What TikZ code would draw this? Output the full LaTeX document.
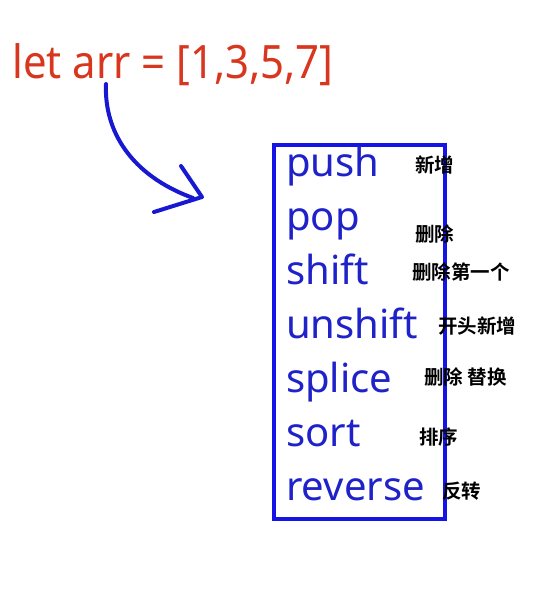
\documentclass[tikz,border=0pt]{standalone}
\usepackage{fontspec}
\setmainfont{Noto Sans}
\newfontfamily\titlefont[FakeStretch=0.91]{Noto Sans}
\newfontfamily\cjkb[BoldFont=*]{Noto Sans CJK SC Bold}
\definecolor{titlered}{HTML}{D8361E}
\definecolor{mblue}{HTML}{1E22C8}
\definecolor{boxblue}{HTML}{1414E6}
\definecolor{arrblue}{HTML}{1818D2}
\begin{document}
\begin{tikzpicture}[x=1pt,y=-1pt,
  title/.style={anchor=base west,inner sep=0pt,text=titlered,font=\titlefont\fontsize{46}{50}\selectfont},
  method/.style={anchor=base west,inner sep=0pt,text=mblue,font=\fontsize{40}{44}\selectfont},
  note/.style={anchor=west,inner sep=0pt,text=black,font=\cjkb\fontsize{19.5}{22}\selectfont},
  frame/.style={draw=boxblue,line width=4pt},
  hand/.style={draw=arrblue,line width=4pt,line cap=round,line join=round}]
\useasboundingbox (0,0) rectangle (536,605);
\node[title] (t) at (12,78) {let arr = [1,3,5,7]};
\node[frame,minimum width=171pt,minimum height=374pt,anchor=north west,inner sep=0pt] (box) at (272,143) {};
\node[method] (m1) at (286,176) {push};
\node[method] (m2) at (286,230) {pop};
\node[method] (m3) at (286,284) {shift};
\node[method] (m4) at (286,338) {unshift};
\node[method] (m5) at (286,392) {splice};
\node[method] (m6) at (286,446) {sort};
\node[method] (m7) at (286,500) {reverse};
\node[note] (n1) at (415,165) {新增};
\node[note] (n2) at (415,234) {删除};
\node[note] (n3) at (412,272) {删除第一个};
\node[note] (n4) at (438,326) {开头新增};
\node[note] (n5) at (424,377) {删除 替换};
\node[note] (n6) at (419,437) {排序};
\node[note] (n7) at (442,491) {反转};
\coordinate (a0) at (106,84);
\coordinate (a1) at (193,198);
\coordinate (h1) at (181,166);
\coordinate (h2) at (202,197);
\coordinate (h3) at (154,212);
\path[hand] (a0) .. controls (104,130) and (130,175) .. (a1);
\path[hand] (h1) -- (h2) -- (h3);
\end{tikzpicture}
\end{document}
